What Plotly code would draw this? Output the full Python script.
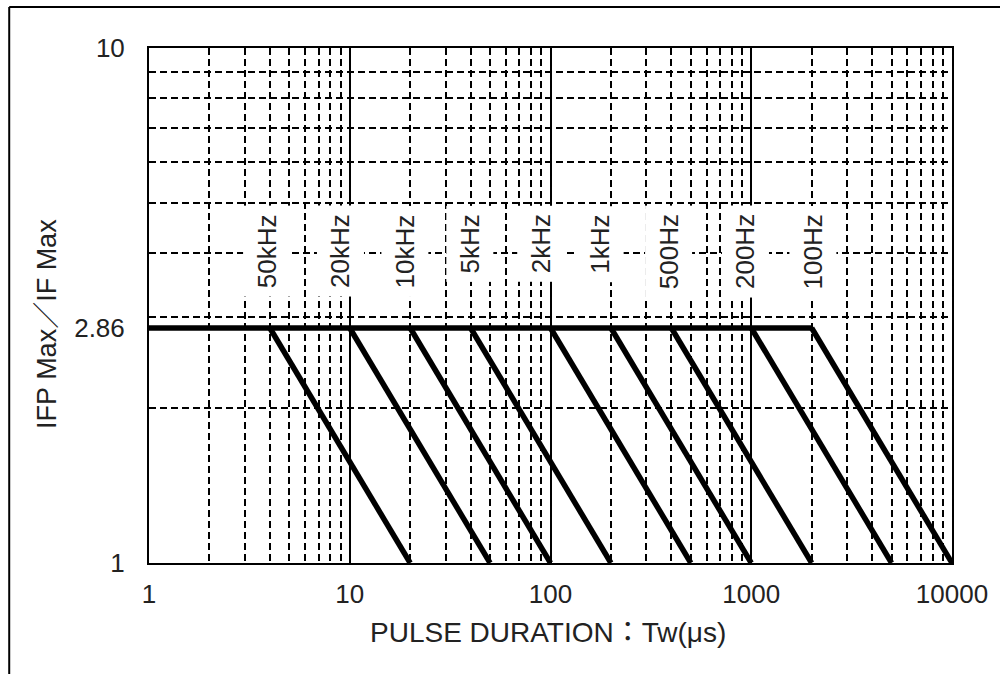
import math
import plotly.graph_objects as go

# ---- data ----
freq_labels = ["50kHz", "20kHz", "10kHz", "5kHz", "2kHz", "1kHz", "500Hz", "200Hz", "100Hz"]
period_us = [20, 50, 100, 200, 500, 1000, 2000, 5000, 10000]      # Tw where ratio reaches 1
knee_us = [4, 10, 20, 40, 100, 200, 400, 1000, 2000]              # Tw where ratio leaves 2.86
ratio_max = 2.86
ratio_min = 1
flat_start_us = 1

x_tickvals = [1, 10, 100, 1000, 10000]
x_ticktext = ["1", "10", "100", "1000", "10000"]
y_tickvals = [1, 2.86, 10]
y_ticktext = ["1", "2.86", "10"]

label_xshift = [-3, -9, -5, -1, -10, -11, -3, -6, 1]
label_top_y = 4.95

FONT = "Liberation Sans, Arial, Noto Sans CJK JP, sans-serif"

# ---- build curve ----
xs, ys = [flat_start_us, knee_us[-1]], [ratio_max, ratio_max]
for k, p in zip(knee_us, period_us):
    xs += [None, k, p]
    ys += [None, ratio_max, ratio_min]

fig = go.Figure()
fig.add_trace(go.Scatter(x=xs, y=ys, mode="lines",
                         line=dict(color="black", width=5.5),
                         hoverinfo="skip", showlegend=False))

minor_x = [m * 10 ** e for e in range(4) for m in range(2, 10)]
minor_y = [m for m in range(2, 10)]
dash = "7px,4px"

fig.update_xaxes(type="log", range=[0, 4],
                 tickmode="array", tickvals=x_tickvals, ticktext=x_ticktext,
                 ticks="", ticklabelstandoff=7,
                 showgrid=True, gridcolor="black", gridwidth=1.5,
                 showline=True, linecolor="black", linewidth=2, mirror=True,
                 zeroline=False,
                 minor=dict(tickmode="array", tickvals=minor_x, showgrid=True,
                            gridcolor="black", gridwidth=1.5, griddash=dash, ticks=""),
                 tickfont=dict(family=FONT, size=26, color="#222"))
fig.update_yaxes(type="log", range=[0, 1],
                 tickmode="array", tickvals=y_tickvals, ticktext=y_ticktext,
                 ticks="", ticklabelstandoff=17,
                 showgrid=False,
                 showline=True, linecolor="black", linewidth=2, mirror=True,
                 zeroline=False,
                 minor=dict(tickmode="array", tickvals=minor_y, showgrid=True,
                            gridcolor="black", gridwidth=1.5, griddash=dash, ticks=""),
                 tickfont=dict(family=FONT, size=26, color="#222"))

for lab, k, dx in zip(freq_labels, knee_us, label_xshift):
    fig.add_annotation(x=math.log10(k), y=math.log10(label_top_y), xref="x", yref="y",
                       text=lab, textangle=-90, showarrow=False, xshift=dx,
                       xanchor="center", yanchor="top",
                       bgcolor="white", borderpad=8,
                       font=dict(family=FONT, size=26, color="#222"))

fig.add_annotation(x=(551 - 149) / 810, y=(563 - 632) / 515, xref="paper", yref="paper",
                   text="PULSE DURATION：Tw(μs)", showarrow=False,
                   xanchor="center", yanchor="middle",
                   font=dict(family=FONT, size=28, color="#222"))
fig.add_annotation(x=(46 - 149) / 810, y=(563 - 324) / 515, xref="paper", yref="paper",
                   text="IFP Max／IF Max", showarrow=False, textangle=-90,
                   xanchor="center", yanchor="middle",
                   font=dict(family=FONT, size=27, color="#222"))

# outer frame (top and left edges visible)
fx0 = (8 - 149) / 810
fy0 = (563 - 7) / 515
fig.add_shape(type="line", xref="paper", yref="paper", x0=fx0, x1=1.2, y0=fy0, y1=fy0,
              line=dict(color="black", width=2))
fig.add_shape(type="line", xref="paper", yref="paper", x0=fx0, x1=fx0, y0=fy0, y1=-0.4,
              line=dict(color="black", width=2))

fig.update_layout(width=1000, height=674,
                  margin=dict(l=149, r=41, t=48, b=111),
                  paper_bgcolor="white", plot_bgcolor="white",
                  showlegend=False)

fig.write_html("out.html", config={"displayModeBar": False},
               post_script="document.body.style.margin='0';")
